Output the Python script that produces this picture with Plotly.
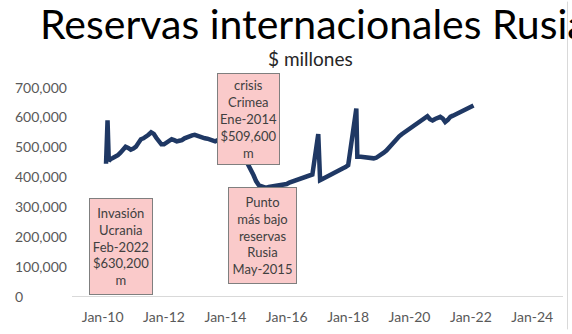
import plotly.graph_objects as go

# ---------------- data ($ millones) ----------------
fechas = [
    "2010-02-10", "2010-02-28", "2010-03-15", "2010-04-01", "2010-05-01", "2010-06-01",
    "2010-07-01", "2010-08-01", "2010-09-01", "2010-10-01", "2010-11-01", "2010-12-01",
    "2011-01-01", "2011-02-01", "2011-03-01", "2011-04-01", "2011-05-01", "2011-06-01",
    "2011-07-01", "2011-08-01", "2011-09-01", "2011-10-01", "2011-11-01", "2011-12-01",
    "2012-01-01", "2012-02-01", "2012-03-01", "2012-04-01", "2012-05-01", "2012-06-01",
    "2012-07-01", "2012-08-01", "2012-09-01", "2012-10-01", "2012-11-01", "2012-12-01",
    "2013-01-01", "2013-02-01", "2013-03-01", "2013-04-01", "2013-05-01", "2013-06-01",
    "2013-07-01", "2013-08-01", "2013-09-01", "2013-10-01", "2013-11-01", "2013-12-01",
    "2014-01-01", "2014-02-01", "2014-03-01", "2014-04-01", "2014-05-01", "2014-06-01",
    "2014-07-01", "2014-08-01", "2014-09-01", "2014-10-01", "2014-11-01", "2014-12-01",
    "2015-01-01", "2015-02-01", "2015-03-01", "2015-04-01", "2015-05-01", "2015-06-01",
    "2015-07-01", "2015-08-01", "2015-09-01", "2015-10-01", "2015-11-01", "2015-12-01",
    "2016-01-01", "2016-02-01", "2016-03-01", "2016-04-01", "2016-05-01", "2016-06-01",
    "2016-07-01", "2016-08-01", "2016-09-01", "2016-10-01", "2016-11-01",
    "2017-01-10", "2017-02-01", "2017-03-01", "2017-04-01", "2017-05-01", "2017-06-01",
    "2017-07-01", "2017-08-01", "2017-09-01", "2017-10-01", "2017-11-01", "2017-12-01",
    "2018-01-01", "2018-04-08", "2018-04-20", "2018-06-01",
    "2018-07-01", "2018-08-01", "2018-09-01", "2018-10-01", "2018-11-01", "2018-12-01",
    "2019-01-01", "2019-02-01", "2019-03-01", "2019-04-01", "2019-05-01", "2019-06-01",
    "2019-07-01", "2019-08-01", "2019-09-01", "2019-10-01", "2019-11-01", "2019-12-01",
    "2020-01-01", "2020-02-01", "2020-03-01", "2020-04-01", "2020-05-01", "2020-06-01",
    "2020-07-01", "2020-08-01", "2020-09-01", "2020-10-01", "2020-11-01", "2020-12-01",
    "2021-01-01", "2021-02-01", "2021-03-01", "2021-04-01", "2021-05-01", "2021-06-01",
    "2021-07-01", "2021-08-01", "2021-09-01", "2021-10-01", "2021-11-01", "2021-12-01",
    "2022-01-01", "2022-02-01",
]
reservas = [
    443000, 588000, 452000, 458000, 462000, 466000,
    472000, 480000, 490000, 500000, 496000, 490000,
    494000, 500000, 512000, 525000, 528000, 532000,
    540000, 548000, 543000, 530000, 518000, 508000,
    508000, 515000, 520000, 525000, 522000, 518000,
    520000, 522000, 528000, 532000, 535000, 538000,
    540000, 536000, 532000, 530000, 528000, 527000,
    524000, 520000, 518000, 522000, 518000, 512000,
    509600, 498000, 490000, 480000, 470000, 468000,
    468000, 465000, 455000, 440000, 420000, 405000,
    385000, 372000, 368000, 366000, 362000, 365000,
    366000, 368000, 370000, 370000, 372000, 372000,
    375000, 380000, 383000, 386000, 390000, 393000,
    397000, 400000, 402000, 405000, 407000,
    542000, 388000, 392000, 397000, 402000, 406000,
    410000, 415000, 420000, 424000, 428000, 432000,
    438000, 628000, 466000, 466000,
    465000, 463000, 462000, 460000, 461000, 463000,
    468000, 475000, 480000, 487000, 497000, 510000,
    520000, 528000, 535000, 542000, 548000, 555000,
    563000, 568000, 572000, 580000, 585000, 590000,
    594000, 602000, 592000, 588000, 593000, 598000,
    600000, 594000, 583000, 590000, 600000, 604000,
    608000, 613000, 617000, 622000, 627000, 631000,
    635000, 638000,
]

ticks_y = [0, 100000, 200000, 300000, 400000, 500000, 600000, 700000]
ticks_y_texto = ["0", "100,000", "200,000", "300,000", "400,000", "500,000", "600,000", "700,000"]
ticks_x = ["2010-01-01", "2012-01-01", "2014-01-01", "2016-01-01",
           "2018-01-01", "2020-01-01", "2022-01-01", "2024-01-01"]
ticks_x_texto = ["Jan-10", "Jan-12", "Jan-14", "Jan-16", "Jan-18", "Jan-20", "Jan-22", "Jan-24"]

titulo = "Reservas internacionales Rusia"
subtitulo = "$ millones"
notas_texto = [
    "Invasión<br>Ucrania<br>Feb-2022<br>$630,200<br>m",
    "crisis<br>Crimea<br>Ene-2014<br>$509,600<br>m",
    "Punto<br>más bajo<br>reservas<br>Rusia<br>May-2015",
]

# ---------------- layout geometry (pixels) ----------------
W, H = 572, 334
L, R, T, B = 72, 9, 87, 34
PW, PH = W - L - R, H - T - B
FONT = "Lato"


def fx(px):
    return (px - L) / PW


def fy(py):
    return (H - B - py) / PH


# note boxes: (center x, center y, width, height) in pixels
notas_caja = [
    (121, 249.5, 64, 97),
    (248.5, 120, 63, 92),
    (262.5, 238.5, 69, 97),
]

fig = go.Figure()
fig.add_trace(go.Scatter(
    x=fechas, y=reservas, mode="lines",
    line=dict(color="#1F3864", width=4.5),
    showlegend=False, hoverinfo="x+y",
))

annotations = []
annotations.append(dict(
    text=titulo, xref="paper", yref="paper", x=fx(314), y=fy(22),
    xanchor="center", yanchor="middle", showarrow=False,
    font=dict(family=FONT, size=41, color="#000000"),
))
annotations.append(dict(
    text=subtitulo, xref="paper", yref="paper", x=fx(310), y=fy(58),
    xanchor="center", yanchor="middle", showarrow=False,
    font=dict(family=FONT, size=19, color="#262626"),
))
for v, t in zip(ticks_y, ticks_y_texto):
    annotations.append(dict(
        text=t, xref="paper", yref="y", x=fx(13), y=v,
        xanchor="left", yanchor="middle", showarrow=False,
        font=dict(family=FONT, size=14, color="#595959"),
    ))
for txt, (cx, cy, w, h) in zip(notas_texto, notas_caja):
    annotations.append(dict(
        text=txt, xref="paper", yref="paper", x=fx(cx), y=fy(cy),
        xanchor="center", yanchor="middle", showarrow=False,
        width=w - 2, height=h - 2, borderpad=0, borderwidth=1,
        bgcolor="#FACACA", bordercolor="#7F7F7F", align="center", valign="middle",
        font=dict(family=FONT, size=13, color="#404040"),
    ))

fig.update_layout(
    width=W, height=H,
    margin=dict(l=L, r=R, t=T, b=B, pad=0),
    paper_bgcolor="white", plot_bgcolor="white",
    font=dict(family=FONT, color="#595959"),
    annotations=annotations,
    shapes=[
        dict(type="line", xref="paper", yref="paper", x0=fx(567.5), x1=fx(567.5),
             y0=fy(0), y1=fy(334), line=dict(color="#D9D9D9", width=1)),
    ],
    xaxis=dict(
        type="date", range=["2009-01-01", "2025-01-01"],
        tickvals=ticks_x, ticktext=ticks_x_texto,
        tickfont=dict(family=FONT, size=14, color="#595959"),
        showline=True, linecolor="#D9D9D9", linewidth=1,
        showgrid=False, zeroline=False, ticks="", ticklabelstandoff=8,
    ),
    yaxis=dict(
        range=[0, 700000], showticklabels=False, showgrid=False,
        zeroline=False, showline=False, ticks="",
    ),
)

fig.write_html("out.html")
